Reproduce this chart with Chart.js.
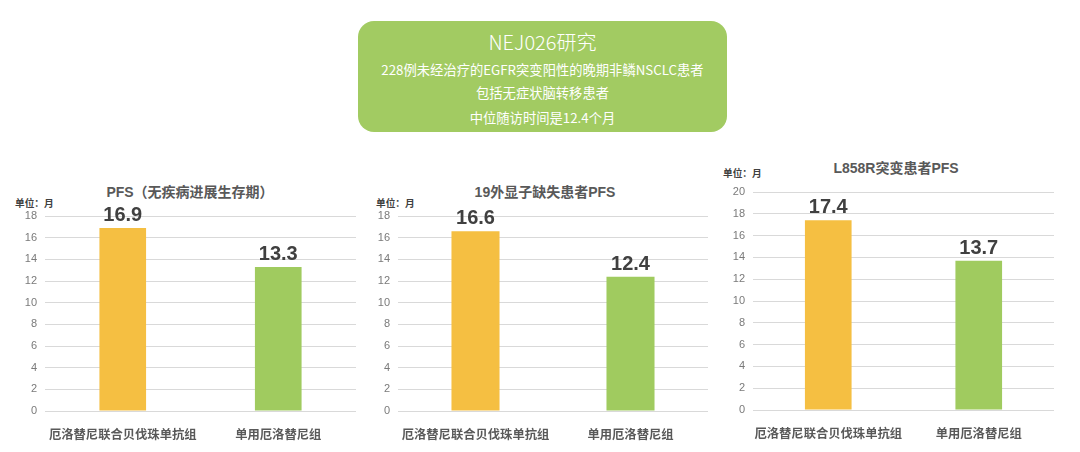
<!DOCTYPE html>
<html>
<head>
<meta charset="utf-8">
<script src="https://cdn.jsdelivr.net/npm/chart.js@4.4.1/dist/chart.umd.min.js"></script>
<style>
    body { margin: 0; background: #fff; width: 1080px; height: 452px; overflow: hidden; position: relative; }
    .box { position: absolute; left: 358px; top: 21px; width: 369px; height: 111px; border-radius: 16px; background: #a2cb62; }
    .box div { position: absolute; left: 0; width: 100%; text-align: center; color: #fff; font-family: "Noto Sans CJK SC", "Noto Sans", sans-serif; white-space: nowrap; }
    .title { position: absolute; font-family: "Liberation Sans", "Noto Sans CJK SC", sans-serif; font-weight: bold; font-size: 14px; color: #595959; white-space: nowrap; transform: translate(-50%, -50%); }
    .unit { position: absolute; font-family: "Noto Sans CJK SC", sans-serif; font-weight: bold; font-size: 9.7px; color: #404040; white-space: nowrap; transform: translateY(-50%); }
    .wrap { position: absolute; }
</style>
</head>
<body>
<div class="box">
    <div style="top:6px; font-size:20px; line-height:30px; font-weight:300;">NEJ026研究</div>
    <div style="top:39px; font-size:13.3px; line-height:20px;">228例未经治疗的EGFR突变阳性的晚期非鳞NSCLC患者</div>
    <div style="top:62px; font-size:13.3px; line-height:20px;">包括无症状脑转移患者</div>
    <div style="top:87px; font-size:13.3px; line-height:20px;">中位随访时间是12.4个月</div>
</div>

<div class="title" style="left:190px; top:191px;">PFS（无疾病进展生存期）</div>
<div class="title" style="left:545px; top:191px;">19外显子缺失患者PFS</div>
<div class="title" style="left:896px; top:167px;">L858R突变患者PFS</div>
<div class="unit" style="left:15px; top:203px;">单位：月</div>
<div class="unit" style="left:376px; top:203px;">单位：月</div>
<div class="unit" style="left:723px; top:173px;">单位：月</div>

<div class="wrap" style="left:0; top:150px; width:365px; height:302px;"><canvas id="pfsChart"></canvas></div>
<div class="wrap" style="left:360px; top:150px; width:355px; height:302px;"><canvas id="ex19Chart"></canvas></div>
<div class="wrap" style="left:715px; top:150px; width:365px; height:302px;"><canvas id="l858rChart"></canvas></div>

<script>
const categories = ['厄洛替尼联合贝伐珠单抗组', '单用厄洛替尼组'];
const pfsValues = [16.9, 13.3];
const ex19Values = [16.6, 12.4];
const l858rValues = [17.4, 13.7];
const pfsTicks = [0, 2, 4, 6, 8, 10, 12, 14, 16, 18];
const l858rTicks = [0, 2, 4, 6, 8, 10, 12, 14, 16, 18, 20];

const barColors = ['#f5bf42', '#a0cb5f'];

// draw value labels above the bars
const valueLabels = {
    id: 'valueLabels',
    afterDatasetsDraw(chart) {
        const ctx = chart.ctx;
        const meta = chart.getDatasetMeta(0);
        ctx.save();
        ctx.font = 'bold 20px "Liberation Sans", Arial, sans-serif';
        ctx.fillStyle = '#404040';
        ctx.textAlign = 'center';
        ctx.textBaseline = 'alphabetic';
        meta.data.forEach((bar, i) => {
            ctx.fillText(chart.data.datasets[0].data[i].toFixed(1), bar.x, bar.y - 7);
        });
        ctx.restore();
    }
};

function makeChart(id, values, ticks, axisWidth, pad, barPct) {
    const ctx = document.getElementById(id).getContext('2d');
    const yMax = ticks[ticks.length - 1];

    return new Chart(ctx, {
        type: 'bar',
        data: {
            labels: categories,
            datasets: [{
                data: values,
                backgroundColor: barColors,
                borderWidth: 0,
                barPercentage: barPct,
                categoryPercentage: 1
            }]
        },
        options: {
            responsive: true,
            maintainAspectRatio: false,
            animation: false,
            layout: { padding: pad },
            plugins: {
                legend: { display: false },
                tooltip: { enabled: false }
            },
            scales: {
                x: {
                    grid: { display: false },
                    border: { display: false },
                    ticks: {
                        padding: 8,
                        maxRotation: 0,
                        minRotation: 0,
                        autoSkip: false,
                        color: '#595959',
                        font: { family: '"Noto Sans CJK SC", sans-serif', size: 12.3, weight: 'bold' }
                    },
                    afterFit(scale) {
                        scale.height = pad.xHeight;
                        scale.paddingLeft = 0;
                        scale.paddingRight = 0;
                    }
                },
                y: {
                    min: 0,
                    max: yMax,
                    afterBuildTicks(scale) {
                        scale.ticks = ticks.map(v => ({ value: v }));
                    },
                    grid: { color: '#d9d9d9', drawTicks: false, lineWidth: 1 },
                    border: { display: false },
                    ticks: {
                        padding: 8,
                        color: '#7a7a7a',
                        font: { family: '"Liberation Sans", Arial, sans-serif', size: 11 }
                    },
                    afterFit(scale) { scale.width = axisWidth; }
                }
            }
        },
        plugins: [valueLabels]
    });
}

makeChart('pfsChart', pfsValues, pfsTicks, 45, { top: 66, right: 9, bottom: 0, left: 0, xHeight: 41 }, 0.30);
makeChart('ex19Chart', ex19Values, pfsTicks, 38, { top: 66, right: 7, bottom: 0, left: 0, xHeight: 41 }, 0.31);
makeChart('l858rChart', l858rValues, l858rTicks, 38, { top: 42, right: 26, bottom: 0, left: 0, xHeight: 42 }, 0.31);
</script>
</body>
</html>
